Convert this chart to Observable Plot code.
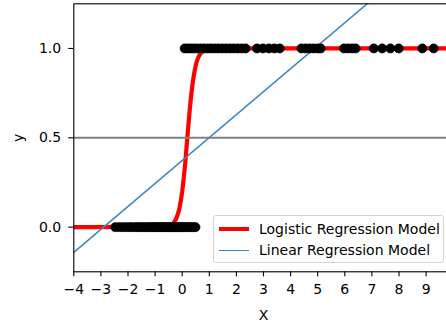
<!DOCTYPE html>
<html><head><meta charset="utf-8">
<script src="https://cdn.jsdelivr.net/npm/d3@7"></script>
<script src="https://cdn.jsdelivr.net/npm/@observablehq/plot@0.6"></script>
<style>
html,body{margin:0;padding:0;overflow:hidden;background:#fff;}
#wrap{position:relative;width:446px;height:324px;overflow:hidden;}
#wrap svg{overflow:hidden;display:block;}
.legend{position:absolute;left:213px;top:215px;width:231px;height:48px;box-sizing:border-box;border:1px solid #d4d4d4;border-radius:3px;background:rgba(255,255,255,0.85);font:14px "DejaVu Sans";color:#000;}
.legend .row{position:absolute;left:5px;height:20px;display:flex;align-items:center;white-space:nowrap;}
.legend .sw{width:30px;margin-right:10px;}
</style>
</head><body>
<div id="wrap"></div>
<script>
// zero-class examples (y = 0)
const zeroX = [-2.47, -2.33, -2.2, -2.08, -1.96, -1.86, -1.75, -1.66, -1.57, -1.48, -1.4, -1.31, -1.23, -1.15, -1.08, -1.01, -0.94, -0.88, -0.82, -0.76, -0.7, -0.64, -0.59, -0.53, -0.47, -0.42, -0.37, -0.31, -0.26, -0.21, -0.16, -0.11, -0.06, -0.01, 0.05, 0.11, 0.18, 0.26, 0.34, 0.42, 0.49];
// one-class examples (y = 1)
const oneX = [0.09, 0.2, 0.32, 0.44, 0.56, 0.69, 0.81, 0.94, 1.07, 1.2, 1.34, 1.48, 1.62, 1.76, 1.9, 2.05, 2.2, 2.34,
  2.76, 2.98, 3.2, 3.4, 3.6,
  4.4, 4.55, 4.7, 4.85, 5.0, 5.11,
  5.97, 6.12, 6.27, 6.4,
  7.07, 7.38, 7.68, 7.99,
  8.86, 9.28];
// logistic model curve
const logX = [-4, -0.5, -0.4, -0.3, -0.2, -0.1, 0, 0.1, 0.2, 0.3, 0.4, 0.5, 0.6, 0.7, 0.8, 1.0, 1.3, 10];
const logY = [0, 0.006, 0.013, 0.027, 0.055, 0.107, 0.2, 0.34, 0.52, 0.69, 0.82, 0.905, 0.952, 0.976, 0.988, 0.997, 1, 1];
// linear model endpoints
const linX = [-4, 10];
const linY = [-0.141, 1.658];
const refY = [0.5];
const xTicks = [-4, -3, -2, -1, 0, 1, 2, 3, 4, 5, 6, 7, 8, 9];
const yTicks = [0, 0.5, 1.0];
const legendLabels = ["Logistic Regression Model", "Linear Regression Model"];
const legendColors = ["red", "#3a87c0"];
const legendWidths = [4.2, 1.8];

const points = [...zeroX.map(x => ({x, y: 0})), ...oneX.map(x => ({x, y: 1}))];
const logistic = logX.map((x, i) => ({x, y: logY[i]}));
const linear = linX.map((x, i) => ({x, y: linY[i]}));

const chart = Plot.plot({
  width: 446, height: 324,
  marginLeft: 73.3, marginRight: -6.7, marginTop: 3.3, marginBottom: 52.7,
  style: {fontFamily: "DejaVu Sans", fontSize: "14px", color: "black", background: "white"},
  x: {domain: [-4, 10]},
  y: {domain: [-0.25, 1.25]},
  marks: [
    Plot.line(logistic, {x: "x", y: "y", stroke: "red", strokeWidth: 4.2, curve: "monotone-x", clip: true}),
    Plot.line(linear, {x: "x", y: "y", stroke: "#3a87c0", strokeWidth: 1.5, clip: true}),
    Plot.ruleY(refY, {stroke: "#808080", strokeWidth: 2.1}),
    Plot.dot(points, {x: "x", y: "y", r: 4.6, fill: "black", stroke: "black", strokeWidth: 0.5}),
    Plot.frame({stroke: "black", strokeWidth: 1.1}),
    Plot.axisX({ticks: xTicks, tickSize: 5, tickPadding: 7, fontSize: 14, label: "X", labelAnchor: "center", labelOffset: 47.7, labelArrow: "none", strokeWidth: 1.1}),
    Plot.axisY({ticks: yTicks, tickSize: 5, tickPadding: 7.6, fontSize: 14, tickFormat: d3.format(".1f"), label: "y", labelAnchor: "center", labelOffset: 61, labelArrow: "none", strokeWidth: 1.1})
  ]
});
const wrap = document.getElementById("wrap");
wrap.appendChild(chart);

const leg = document.createElement("div");
leg.className = "legend";
legendLabels.forEach((lab, i) => {
  const row = document.createElement("div");
  row.className = "row";
  row.style.top = (i === 0 ? 2.7 : 24.3) + "px";
  const sw = document.createElement("div");
  sw.className = "sw";
  sw.style.borderTop = legendWidths[i] + "px solid " + legendColors[i];
  const t = document.createElement("span");
  t.textContent = lab;
  row.appendChild(sw); row.appendChild(t);
  leg.appendChild(row);
});
wrap.appendChild(leg);
</script>
</body></html>
